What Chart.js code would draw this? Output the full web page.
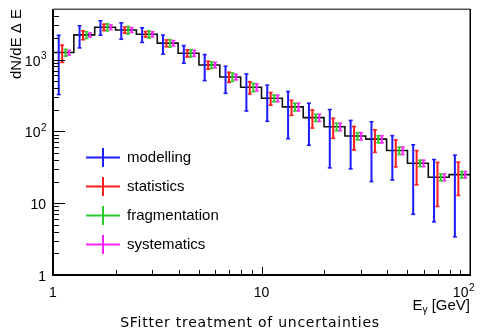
<!DOCTYPE html>
<html><head><meta charset="utf-8">
<script src="https://cdn.jsdelivr.net/npm/chart.js@4.4.0/dist/chart.umd.min.js"></script>
<style>html,body{margin:0;padding:0;background:#fff;}#wrap{width:483px;height:332px;position:relative;}</style>
</head><body><div id="wrap"><canvas id="c"></canvas></div>
<script>
// ---- data ----
const binEdges = [1,1.259,1.585,1.995,2.512,3.162,3.981,5.012,6.310,7.943,10,12.59,15.85,19.95,25.12,31.62,39.81,50.12,63.10,79.43,100];
const binValues = [1250,2200,2820,2580,2250,1690,1225,840,572,411,289,219,155,116,86,78,54,36,23,25];
const errModelling     = [925,750,640,665,520,500,337,331,234,219,151,140,91,85,56,58,33,29,17.5,21.6];
const errStatistics    = [340,314,288,251,200,181,142,107,92,80,58,52,44,36,31,27,22,18,14,12.2];
const errFragmentation = [135,235,318,307,252,202,142,90,76,55,31,27,18,14,10,9,6.5,3.7,2.5,2.6];
const errSystematics   = [94,142,212,197,180,143,116,74,52,46,31,27,18,14,10,9,6.5,3.7,2.5,2.6];
const seriesNames = ['modelling','statistics','fragmentation','systematics'];
const xTickLabels = [{v:1,b:'1',s:''},{v:10,b:'10',s:''},{v:100,b:'10',s:'2'}];
const yTickLabels = [{v:1,b:'1',s:''},{v:10,b:'10',s:''},{v:100,b:'10',s:'2'},{v:1000,b:'10',s:'3'}];
const xMin = 1, xMax = 100, yMin = 1, yMax = 5050;

// ---- styles ----
const colors = ['#1c1cff','#ff1c1c','#2ccc2c','#ff22ff'];
const offsets = [0.275,0.44,0.605,0.77];
const errs = [errModelling, errStatistics, errFragmentation, errSystematics];

function errData(err, frac){
  const out = [];
  for (let k=0;k<binValues.length;k++){
    const x = binEdges[k]*Math.pow(binEdges[k+1]/binEdges[k], frac);
    out.push({x:x, y:binValues[k]-err[k]});
    out.push({x:x, y:binValues[k]+err[k]});
    out.push({x:x, y:null});
  }
  return out;
}
const datasets = errs.map((e,i)=>({
  label: seriesNames[i], data: errData(e, offsets[i]),
  borderColor: colors[i], backgroundColor: colors[i], borderWidth: 2,
  pointStyle: 'line', pointRadius: 2, pointBorderWidth: 1.6, pointBorderColor: colors[i],
  spanGaps: false, fill: false
}));
datasets.push({
  label: 'hist', data: binEdges.map((e,i)=>({x:e, y:binValues[Math.min(i, binValues.length-1)]})),
  stepped: 'before', borderColor: '#111', borderWidth: 1.6, pointRadius: 0, fill: false
});

const FONT = '"Liberation Sans", Arial, sans-serif';
function powText(ctx, b, s, size){
  ctx.font = size+'px '+FONT; const wb = ctx.measureText(b).width;
  ctx.font = Math.round(size*0.72)+'px '+FONT; const ws = s ? ctx.measureText(s).width : 0;
  return {wb, ws, w: wb+ws};
}
function drawPow(ctx, b, s, left, baseY, size){
  const m = powText(ctx, b, s, size);
  ctx.textAlign='left'; ctx.textBaseline='alphabetic';
  ctx.font = size+'px '+FONT; ctx.fillText(b, left, baseY);
  if (s){ ctx.font = Math.round(size*0.72)+'px '+FONT; ctx.fillText(s, left+m.wb+0.5, baseY-size*0.45); }
}

const deco = {
  id:'deco',
  afterDraw(chart){
    const {ctx, chartArea:a, scales:{x, y}} = chart;
    ctx.save();
    ctx.strokeStyle='#000'; ctx.lineWidth=1;
    // x ticks
    for (let d=0; d<=2; d++) for (let i=1;i<=9;i++){
      const v=i*Math.pow(10,d); if (v>xMax) continue;
      const px=Math.round(x.getPixelForValue(v))+0.5; const len=(i===1)?8:5;
      ctx.beginPath(); ctx.moveTo(px,a.bottom); ctx.lineTo(px,a.bottom-len); ctx.stroke();
    }
    // y ticks
    for (let d=0; d<=3; d++) for (let i=1;i<=9;i++){
      const v=i*Math.pow(10,d); if (v>yMax) continue;
      const py=Math.round(y.getPixelForValue(v))+0.5; const len=(i===1)?12:6;
      ctx.beginPath(); ctx.moveTo(a.left,py); ctx.lineTo(a.left+len,py); ctx.stroke();
    }
    // frame
    ctx.fillStyle='#000';
    ctx.fillRect(a.left-1, a.top, 2, a.bottom-a.top+1);
    ctx.fillRect(a.left-1, a.bottom-1, a.right-a.left+2, 2);
    ctx.fillStyle='#555'; ctx.fillRect(a.left, a.top-0.5, a.right-a.left, 1.5);
    ctx.fillStyle='#000'; ctx.fillRect(a.right-0.5, a.top, 1.5, a.bottom-a.top);
    // tick labels
    ctx.fillStyle='#000';
    xTickLabels.forEach(t=>{
      const m=powText(ctx,t.b,t.s,14); const px=x.getPixelForValue(t.v);
      let left=px-m.w/2; if (left+m.w>474) left=474-m.w;
      drawPow(ctx,t.b,t.s,left,297,14);
    });
    yTickLabels.forEach(t=>{
      const m=powText(ctx,t.b,t.s,14); const py=y.getPixelForValue(t.v);
      drawPow(ctx,t.b,t.s,46-m.w,py+6,14);
    });
    // axis titles
    ctx.font='15px '+FONT; ctx.textAlign='right'; ctx.textBaseline='alphabetic';
    const t1=' [GeV]'; const w1=ctx.measureText(t1).width;
    ctx.fillText(t1, a.right, 310);
    ctx.font='10px '+FONT; const wg=ctx.measureText('\u03b3').width;
    ctx.fillText('\u03b3', a.right-w1, 313);
    ctx.font='15px '+FONT; ctx.fillText('E', a.right-w1-wg, 310);
    ctx.save(); ctx.translate(21, a.top); ctx.rotate(-Math.PI/2);
    ctx.textAlign='right'; ctx.font='15px '+FONT; ctx.fillText('dN/dE \u0394 E', 0, 0); ctx.restore();
    // title
    ctx.font='14px "DejaVu Sans", sans-serif'; ctx.textAlign='center';
    try{ ctx.letterSpacing='0.75px'; }catch(e){}
    ctx.fillText('SFitter treatment of uncertainties', 250, 327);
    try{ ctx.letterSpacing='0px'; }catch(e){}
    // legend
    const rows=[157.5,186.5,215.5,244.5];
    seriesNames.forEach((n,i)=>{
      const cy=rows[i];
      ctx.strokeStyle=colors[i]; ctx.lineWidth=2;
      ctx.beginPath(); ctx.moveTo(86,cy); ctx.lineTo(120,cy); ctx.moveTo(103,cy-9.5); ctx.lineTo(103,cy+9.5); ctx.stroke();
      ctx.fillStyle='#000'; ctx.font='15px '+FONT; ctx.textAlign='left'; ctx.textBaseline='middle';
      ctx.fillText(n, 127, cy+0.5);
    });
    ctx.restore();
  }
};

new Chart(document.getElementById('c'), {
  type:'line',
  data:{datasets},
  options:{
    responsive:true, maintainAspectRatio:false, animation:false,
    layout:{padding:{left:53,right:13,top:9,bottom:57}},
    scales:{
      x:{type:'logarithmic', min:xMin, max:xMax, display:false, bounds:'data'},
      y:{type:'logarithmic', min:yMin, max:yMax, display:false, bounds:'data'}
    },
    plugins:{legend:{display:false}, tooltip:{enabled:false}},
    events:[]
  },
  plugins:[deco]
});
</script></body></html>
